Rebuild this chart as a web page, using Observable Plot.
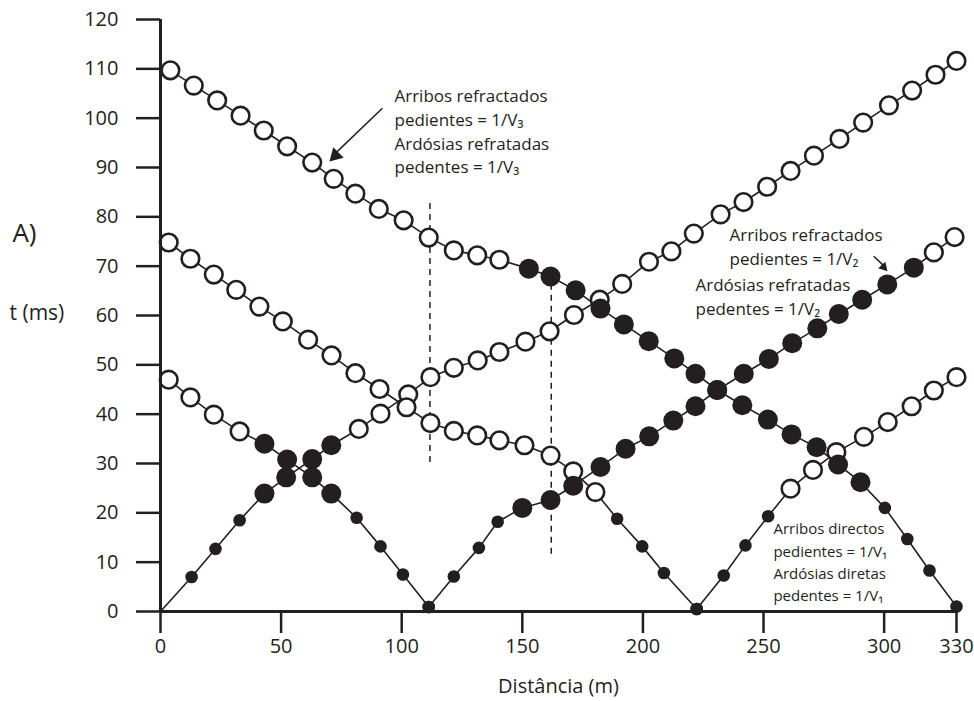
<!DOCTYPE html>
<html>
<head>
<meta charset="utf-8">
<script src="https://cdn.jsdelivr.net/npm/d3@7"></script>
<script src="https://cdn.jsdelivr.net/npm/@observablehq/plot@0.6"></script>
<style>
  body { margin: 0; background: #fff; }
  #chart svg { display: block; font-family: "Open Sans", sans-serif; }
</style>
</head>
<body>
<div id="chart"></div>
<script>
// ---- Data (distance in m, time in ms) ----
// kind: "-" no marker, "f" small filled dot, "F" large filled dot, "o" open circle
const xTicks = [0, 50, 100, 150, 200, 250, 300, 330];
const yTicks = [0, 10, 20, 30, 40, 50, 60, 70, 80, 90, 100, 110, 120];

// Shot at 0 m, recorded towards the right
const shot0Right_x = [0, 12.9, 22.8, 32.8, 43.1, 52.1, 62.9, 70.8, 82.2, 91.2, 102.7, 111.9, 121.6, 131.5, 140.5, 151.3, 161.3, 171.4, 182.1, 191.4, 202.5, 211.8, 221.1, 232.2, 241.7, 251.5, 261.2, 270.9, 281.5, 291.3, 302.0, 311.6, 321.3, 330.0];
const shot0Right_t = [0, 7.0, 12.7, 18.5, 23.9, 27.2, 30.9, 33.7, 37.0, 40.1, 44.0, 47.5, 49.4, 50.9, 52.6, 54.7, 56.8, 60.1, 63.2, 66.4, 70.9, 73.0, 76.6, 80.5, 83.0, 86.1, 89.3, 92.4, 95.8, 99.1, 102.6, 105.6, 108.8, 111.6];
const shot0Right_k = "-fffFFFFoooooooooooooooooooooooooo";

// Shot at 110 m, towards the left
const shot110Left_x = [111.2, 100.5, 91.2, 81.3, 70.8, 62.9, 52.5, 43.1, 32.8, 22.1, 12.4, 3.4];
const shot110Left_t = [0.9, 7.5, 13.2, 19.0, 23.9, 27.2, 30.8, 34.0, 36.5, 39.9, 43.4, 47.0];
const shot110Left_k = "ffffFFFFoooo";

// Shot at 110 m, towards the right
const shot110Right_x = [111.2, 121.6, 132.0, 139.8, 150.0, 161.7, 171.1, 182.4, 192.8, 202.6, 212.6, 221.8, 230.8, 241.8, 252.2, 261.9, 272.3, 281.2, 290.9, 301.3, 312.3, 320.6, 329.2];
const shot110Right_t = [0.9, 7.1, 12.9, 18.2, 21.0, 22.6, 25.5, 29.3, 33.0, 35.5, 38.7, 41.6, 44.9, 48.2, 51.2, 54.4, 57.4, 60.3, 63.2, 66.3, 69.7, 72.8, 75.9];
const shot110Right_k = "ffffFFFFFFFFFFFFFFFFFoo";

// Shot at 220 m, towards the left
const shot220Left_x = [222.3, 208.7, 199.7, 189.3, 180.3, 171.1, 161.7, 150.9, 140.5, 131.3, 121.6, 111.9, 102.0, 90.8, 80.8, 70.9, 61.2, 50.7, 41.0, 31.4, 22.1, 12.4, 3.4];
const shot220Left_t = [0.5, 7.8, 13.2, 18.8, 24.2, 28.4, 31.6, 33.7, 34.7, 35.7, 36.6, 38.2, 41.4, 45.1, 48.3, 51.9, 55.1, 58.8, 61.8, 65.2, 68.3, 71.5, 74.8];
const shot220Left_k = "ffffooooooooooooooooooo";

// Shot at 220 m, towards the right
const shot220Right_x = [222.3, 233.5, 242.5, 251.9, 261.2, 270.5, 280.2, 291.6, 301.5, 311.4, 320.6, 330.0];
const shot220Right_t = [0.5, 7.3, 13.4, 19.3, 24.9, 28.7, 32.3, 35.4, 38.4, 41.6, 44.8, 47.5];
const shot220Right_k = "ffffoooooooo";

// Shot at 330 m, towards the left
const shot330Left_x = [330.0, 318.8, 309.6, 300.3, 290.2, 280.9, 272.0, 261.6, 251.8, 241.2, 230.8, 221.8, 213.0, 202.4, 192.1, 182.4, 172.1, 161.7, 152.7, 140.5, 131.3, 121.6, 111.2, 100.8, 90.5, 80.8, 71.8, 62.9, 52.5, 42.8, 33.2, 23.5, 13.8, 4.1];
const shot330Left_t = [1.0, 8.3, 14.7, 21.0, 26.2, 29.8, 33.3, 35.9, 38.9, 41.8, 44.9, 48.2, 51.3, 54.8, 58.2, 61.4, 65.1, 67.9, 69.5, 71.3, 72.2, 73.2, 75.8, 79.3, 81.6, 84.7, 87.7, 91.0, 94.3, 97.5, 100.5, 103.6, 106.6, 109.7];
const shot330Left_k = "ffffFFFFFFFFFFFFFFFooooooooooooooo";

// Crossover distances (dashed verticals) and their extents
const crossX = [111.7, 162.0];
const crossTop = [83.3, 66.0];
const crossBottom = [30.2, 11.6];

// Annotation texts
const noteV3 = "Arribos refractados\npedientes = 1/V\u2083\nArdósias refratadas\npedentes = 1/V\u2083";
const noteV2a = "Arribos refractados\npedientes = 1/V\u2082";
const noteV2b = "Ardósias refratadas\npedentes = 1/V\u2082";
const noteV1 = "Arribos directos\npedientes = 1/V\u2081\nArdósias diretas\npedentes = 1/V\u2081";

// ---- Build tidy table ----
function chain(name, xs, ts, ks) {
  return xs.map((x, i) => ({chain: name, x, t: ts[i], kind: ks[i]}));
}
const pts = [
  ...chain("s0R", shot0Right_x, shot0Right_t, shot0Right_k),
  ...chain("s110L", shot110Left_x, shot110Left_t, shot110Left_k),
  ...chain("s110R", shot110Right_x, shot110Right_t, shot110Right_k),
  ...chain("s220L", shot220Left_x, shot220Left_t, shot220Left_k),
  ...chain("s220R", shot220Right_x, shot220Right_t, shot220Right_k),
  ...chain("s330L", shot330Left_x, shot330Left_t, shot330Left_k)
];
const openPts = pts.filter(d => d.kind === "o");
const bigPts = pts.filter(d => d.kind === "F");
const smallPts = pts.filter(d => d.kind === "f");
const cross = crossX.map((x, i) => ({x, top: crossTop[i], bottom: crossBottom[i]}));

const INK = "#231f20";

const chart = Plot.plot({
  width: 974,
  height: 701,
  marginLeft: 160,
  marginRight: 18,
  marginTop: 19,
  marginBottom: 90,
  x: {domain: [0, 330]},
  y: {domain: [0, 120]},
  style: {fontFamily: "'Open Sans', sans-serif", color: INK, background: "white", overflow: "visible"},
  marks: [
    // dashed crossover lines
    Plot.ruleX(cross, {x: "x", y1: "bottom", y2: "top", stroke: INK, strokeWidth: 1.5, strokeDasharray: "6,5"}),
    // travel-time polylines
    Plot.line(pts, {x: "x", y: "t", z: "chain", stroke: INK, strokeWidth: 1.6}),
    // markers
    Plot.dot(openPts, {x: "x", y: "t", r: 8.8, fill: "white", stroke: INK, strokeWidth: 2.6}),
    Plot.dot(bigPts, {x: "x", y: "t", r: 10, fill: INK, stroke: "none"}),
    Plot.dot(smallPts, {x: "x", y: "t", r: 6.3, fill: INK, stroke: "none"}),
    // axes
    Plot.axisX(xTicks, {tickSize: 22, tickPadding: 5, fontSize: 20, strokeWidth: 2.5, stroke: INK, fill: INK, label: null}),
    Plot.axisY(yTicks, {tickSize: 24, tickPadding: 18, fontSize: 20, strokeWidth: 2.5, stroke: INK, fill: INK, label: null}),
    Plot.ruleY([0], {x1: 0, x2: 330, stroke: INK, strokeWidth: 3}),
    Plot.ruleX([0], {y1: 0, y2: 120, stroke: INK, strokeWidth: 3}),
    // arrows
    Plot.link([noteV3], {x1: 92.0, y1: 102.0, x2: 71.5, y2: 92.4, stroke: INK, strokeWidth: 1.5}),
    Plot.dot([noteV3], {x: 69.8, y: 91.1, dx: 6.6, dy: -6.6, symbol: "triangle", r: 5.5, rotate: 225, fill: INK, stroke: "none"}),
    Plot.link([noteV2a], {x1: 295.7, y1: 72.0, x2: 300.0, y2: 70.0, stroke: INK, strokeWidth: 1.5}),
    Plot.dot([noteV2a], {x: 301.3, y: 69.0, dx: -3.6, dy: -4.0, symbol: "triangle", r: 3.6, rotate: 137.6, fill: INK, stroke: "none"}),
    // annotations
    Plot.text([noteV3], {x: 97.0, y: 97.6, text: d => d, textAnchor: "start", lineAnchor: "middle", lineHeight: 1.4, fontSize: 17, fill: INK}),
    Plot.text([noteV2a], {x: 235.9, y: 74.2, text: d => d, textAnchor: "start", lineAnchor: "middle", lineHeight: 1.4, fontSize: 17, fill: INK}),
    Plot.text([noteV2b], {x: 221.8, y: 64.0, text: d => d, textAnchor: "start", lineAnchor: "middle", lineHeight: 1.4, fontSize: 17, fill: INK}),
    Plot.text([noteV1], {x: 254.1, y: 10.3, text: d => d, textAnchor: "start", lineAnchor: "middle", lineHeight: 1.48, fontSize: 15, fill: INK}),
    // axis titles
    Plot.text(["Distância (m)"], {x: 165, y: -15.2, text: d => d, textAnchor: "middle", fontSize: 20, fill: INK}),
    Plot.text(["t (ms)"], {x: -62.6, y: 60.4, text: d => d, textAnchor: "start", fontSize: 21, fill: INK}),
    Plot.text(["A)"], {x: -61.4, y: 76.6, text: d => d, textAnchor: "start", fontSize: 26, fill: INK})
  ]
});
document.getElementById("chart").appendChild(chart);
</script>
</body>
</html>
